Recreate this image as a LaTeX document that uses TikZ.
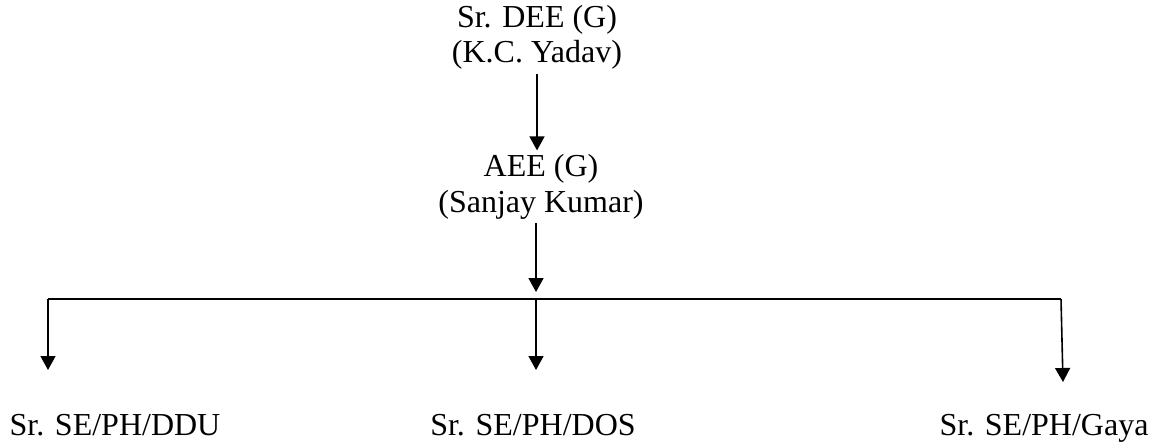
\documentclass[tikz,border=0pt]{standalone}
\usepackage{fontspec}
\setmainfont{Liberation Serif}
\usetikzlibrary{positioning,arrows.meta}

\begin{document}
\begin{tikzpicture}[
        x=0.5pt, y=-0.5pt,
        post/.style={anchor=base, align=center, inner sep=2pt, font=\fontsize{16}{17.5}\selectfont},
        link/.style={line width=0.8pt, -{Triangle[length=7pt,width=7.5pt]}},
        bar/.style={line width=0.8pt}
    ]
        \useasboundingbox (0,0) rectangle (1161,444);

        % Officers
        \node (dee) at (537,63) [post] {Sr. DEE (G)\\(K.C. Yadav)};
        \node (aee) at (541,212) [post] {AEE (G)\\(Sanjay Kumar)};

        % Sections
        \node (ddu) at (115,435) [post] {Sr. SE/PH/DDU};
        \node (dos) at (533,435) [post] {Sr. SE/PH/DOS};
        \node (gaya) at (1044,435) [post] {Sr. SE/PH/Gaya};

        % Branching
        \coordinate (hub) at (536,299);
        \coordinate (lc) at (48,299);
        \coordinate (rc) at (1061,299);
        \coordinate (ddutip) at (48,370);
        \coordinate (dostip) at (536,370);
        \coordinate (gayatip) at (1063,382);

        % Arrows
        \draw[link] (dee.south) -- (dee.south |- aee.north);
        \draw[link] (aee.south -| hub) -- ([yshift=3.5pt]hub);
        \draw[bar] (lc) -- (rc);
        \draw[link] (lc) -- (ddutip);
        \draw[link] (hub) -- (dostip);
        \draw[link] (rc) -- (gayatip);
    \end{tikzpicture}
\end{document}
